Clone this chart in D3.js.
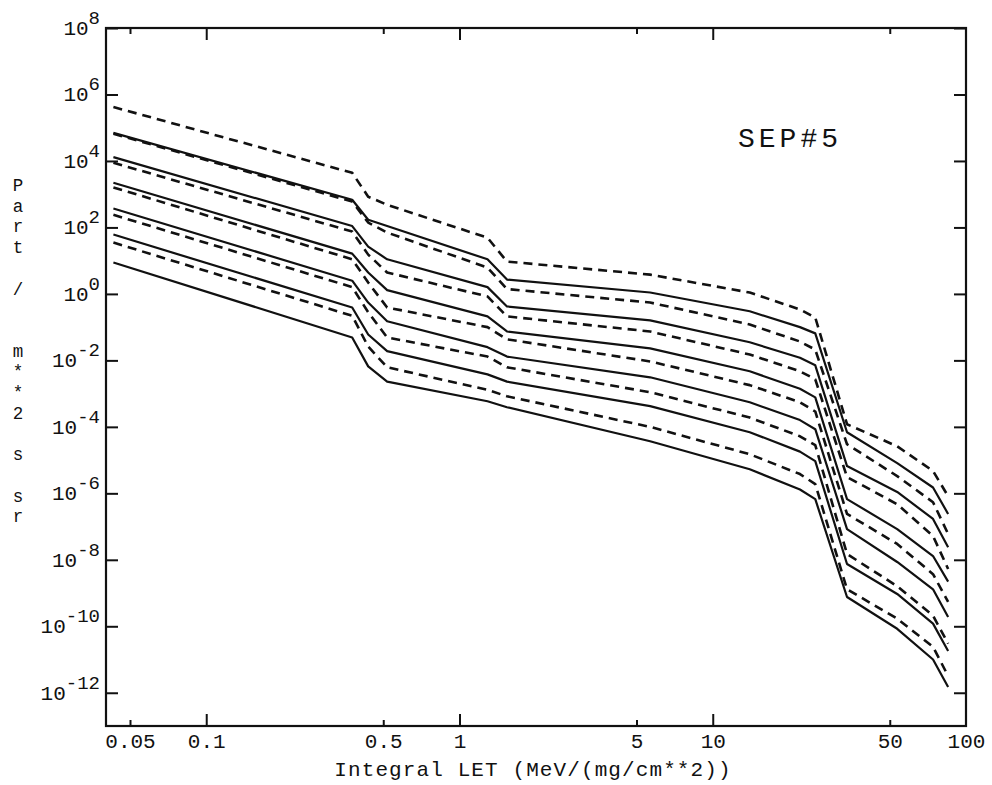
<!DOCTYPE html>
<html>
<head>
<meta charset="utf-8">
<script src="https://cdn.jsdelivr.net/npm/d3@7"></script>
<style>
  body { margin: 0; background: #fff; }
  text { font-family: "Courier New", "Liberation Mono", monospace; fill: #111; }
</style>
</head>
<body>
<svg id="chart" width="992" height="785"></svg>
<script>
/* ---------- data ---------- */
const letValues = [0.043, 0.377, 0.436, 0.518, 1.29, 1.54, 5.66, 14.0, 22.1, 25.4, 33.9, 53.5, 74.1, 85.0];

const dashed0 = [4.2e5, 4.4e3, 8.4e2, 4.8e2, 49, 9.4, 3.8, 1.1, 0.34, 0.195, 1.2e-4, 2.6e-5, 4.7e-6, 8.2e-7];
const solid1  = [7.0e4, 6.8e2, 1.7e2, 1.1e2, 11, 2.7, 1.1, 0.30, 0.10, 6.5e-2, 6.9e-5, 8.1e-6, 1.5e-6, 2.4e-7];
const dashed1 = [6.6e4, 6.0e2, 1.4e2, 70, 6.2, 1.4, 0.55, 0.12, 3.7e-2, 2.1e-2, 3.0e-5, 3.3e-6, 5.4e-7, 6.0e-8];
const solid2  = [1.3e4, 1.1e2, 26.5, 11, 1.6, 0.42, 0.16, 3.5e-2, 1.2e-2, 7.1e-3, 6.6e-6, 1.1e-6, 1.7e-7, 2.4e-8];
const dashed2 = [8.8e3, 75, 15.2, 4.4, 0.84, 0.21, 7.4e-2, 1.5e-2, 4.7e-3, 2.7e-3, 3.1e-6, 4.7e-7, 5.2e-8, 5.3e-9];
const solid3  = [2.2e3, 16.3, 4.4, 1.3, 0.21, 7.4e-2, 2.3e-2, 4.7e-3, 1.4e-3, 7.7e-4, 6.7e-7, 8.4e-8, 1.3e-8, 2.2e-9];
const dashed3 = [1.6e3, 11, 2.2, 0.39, 0.10, 4.3e-2, 9.3e-3, 1.8e-3, 5.5e-4, 2.9e-4, 2.4e-7, 3.0e-8, 3.7e-9, 5.4e-10];
const solid4  = [3.7e2, 2.5, 0.55, 0.15, 2.5e-2, 1.3e-2, 3.1e-3, 5.5e-4, 1.6e-4, 8.5e-5, 8.4e-8, 8.6e-9, 1.3e-9, 1.9e-10];
const dashed4 = [2.4e2, 1.6, 0.28, 4.9e-2, 1.3e-2, 6.2e-3, 1.1e-3, 1.9e-4, 5.2e-5, 2.8e-5, 1.5e-8, 1.6e-9, 2.1e-10, 3.0e-11];
const solid5  = [61, 0.39, 6.0e-2, 1.9e-2, 3.8e-3, 2.3e-3, 4.2e-4, 6.9e-5, 1.8e-5, 9.3e-6, 7.5e-9, 9.4e-10, 1.2e-10, 1.8e-11];
const dashed5 = [35, 0.22, 2.6e-2, 6.2e-3, 1.3e-3, 8.3e-4, 1.0e-4, 1.5e-5, 3.8e-6, 1.9e-6, 1.3e-9, 1.7e-10, 2.4e-11, 3.2e-12];
const solid6  = [8.8, 4.9e-2, 6.6e-3, 2.3e-3, 5.9e-4, 3.9e-4, 3.7e-5, 5.3e-6, 1.3e-6, 6.7e-7, 7.6e-10, 8.4e-11, 1.0e-11, 1.5e-12];

const curves = [
  { values: dashed0, dashed: true },
  { values: solid1, dashed: false },
  { values: dashed1, dashed: true },
  { values: solid2, dashed: false },
  { values: dashed2, dashed: true },
  { values: solid3, dashed: false },
  { values: dashed3, dashed: true },
  { values: solid4, dashed: false },
  { values: dashed4, dashed: true },
  { values: solid5, dashed: false },
  { values: dashed5, dashed: true },
  { values: solid6, dashed: false }
];

const xTickValues = [0.05, 0.1, 0.5, 1, 5, 10, 50, 100];
const xTickLabels = ['0.05', '0.1', '0.5', '1', '5', '10', '50', '100'];
const xMajor = [0.1, 1, 10];
const xMinor = [0.05, 0.5, 5, 50];
const yTickValues = [1e8, 1e6, 1e4, 1e2, 1e0, 1e-2, 1e-4, 1e-6, 1e-8, 1e-10, 1e-12];
const yTickExponents = ['8', '6', '4', '2', '0', '-2', '-4', '-6', '-8', '-10', '-12'];
const yTitle = 'Part /  m**2 s sr';

/* ---------- scales ---------- */
const frame = { left: 106, right: 966, top: 28, bottom: 726 };
const svg = d3.select('#chart');

const x = d3.scaleLog().domain([0.0402, 100]).range([frame.left, frame.right]);
const y = d3.scaleLog().domain([1e-13, 1e8]).range([frame.bottom, frame.top]);

/* ---------- ticks (inward, all four sides) ---------- */
function tickGroup(axis, tx, ty) {
  const g = svg.append('g')
    .attr('transform', `translate(${tx},${ty})`)
    .call(axis);
  g.select('.domain').remove();
  g.selectAll('line').attr('stroke', '#111').attr('stroke-width', 2);
  return g;
}

tickGroup(d3.axisBottom(x).tickValues(xMajor).tickSize(-12).tickFormat(''), 0, frame.bottom);
tickGroup(d3.axisBottom(x).tickValues(xMinor).tickSize(-6).tickFormat(''), 0, frame.bottom);
tickGroup(d3.axisTop(x).tickValues(xMajor).tickSize(-12).tickFormat(''), 0, frame.top);
tickGroup(d3.axisTop(x).tickValues(xMinor).tickSize(-6).tickFormat(''), 0, frame.top);
tickGroup(d3.axisLeft(y).tickValues(yTickValues).tickSize(-12).tickFormat(''), frame.left, 0);
tickGroup(d3.axisRight(y).tickValues(yTickValues).tickSize(-12).tickFormat(''), frame.right, 0);

/* x tick labels */
const xl = svg.append('g')
  .attr('transform', `translate(0,${frame.bottom})`)
  .call(d3.axisBottom(x).tickValues(xTickValues).tickSize(0).tickPadding(7)
    .tickFormat((d, i) => xTickLabels[i]));
xl.select('.domain').remove();
xl.selectAll('text')
  .attr('font-family', '"Courier New", "Liberation Mono", monospace')
  .attr('font-size', 21)
  .attr('fill', '#111');

/* y tick labels: 10 with raised exponent */
const yl = svg.append('g')
  .selectAll('text')
  .data(yTickValues)
  .enter()
  .append('text')
  .attr('x', frame.left - 6)
  .attr('y', d => y(d) + 7)
  .attr('text-anchor', 'end')
  .attr('font-size', 21);
yl.append('tspan').text('10');
yl.append('tspan')
  .attr('dy', -11)
  .attr('font-size', 19)
  .text((d, i) => yTickExponents[i]);

/* ---------- frame ---------- */
svg.append('rect')
  .attr('x', frame.left).attr('y', frame.top)
  .attr('width', frame.right - frame.left).attr('height', frame.bottom - frame.top)
  .attr('fill', 'none')
  .attr('stroke', '#111')
  .attr('stroke-width', 2.2);

/* ---------- curves ---------- */
const line = d3.line()
  .x((d, i) => x(letValues[i]))
  .y(d => y(d));

svg.append('g')
  .selectAll('path')
  .data(curves)
  .enter()
  .append('path')
  .attr('d', c => line(c.values))
  .attr('fill', 'none')
  .attr('stroke', '#111')
  .attr('stroke-width', c => (c.dashed ? 2.6 : 2.2))
  .attr('stroke-dasharray', c => (c.dashed ? '9,6' : null))
  .attr('stroke-linejoin', 'round');

/* ---------- titles ---------- */
svg.append('text')
  .attr('x', 533)
  .attr('y', 776)
  .attr('text-anchor', 'middle')
  .attr('font-size', 21)
  .attr('letter-spacing', 1.1)
  .text('Integral LET (MeV/(mg/cm**2))');

svg.append('g')
  .selectAll('text')
  .data(yTitle.split(''))
  .enter()
  .append('text')
  .attr('x', 18)
  .attr('y', (d, i) => 191 + i * 20.7)
  .attr('text-anchor', 'middle')
  .attr('font-size', 17.5)
  .text(d => d);

svg.append('text')
  .attr('x', 738)
  .attr('y', 147)
  .attr('font-size', 28)
  .attr('letter-spacing', 4)
  .text('SEP#5');
</script>
</body>
</html>
